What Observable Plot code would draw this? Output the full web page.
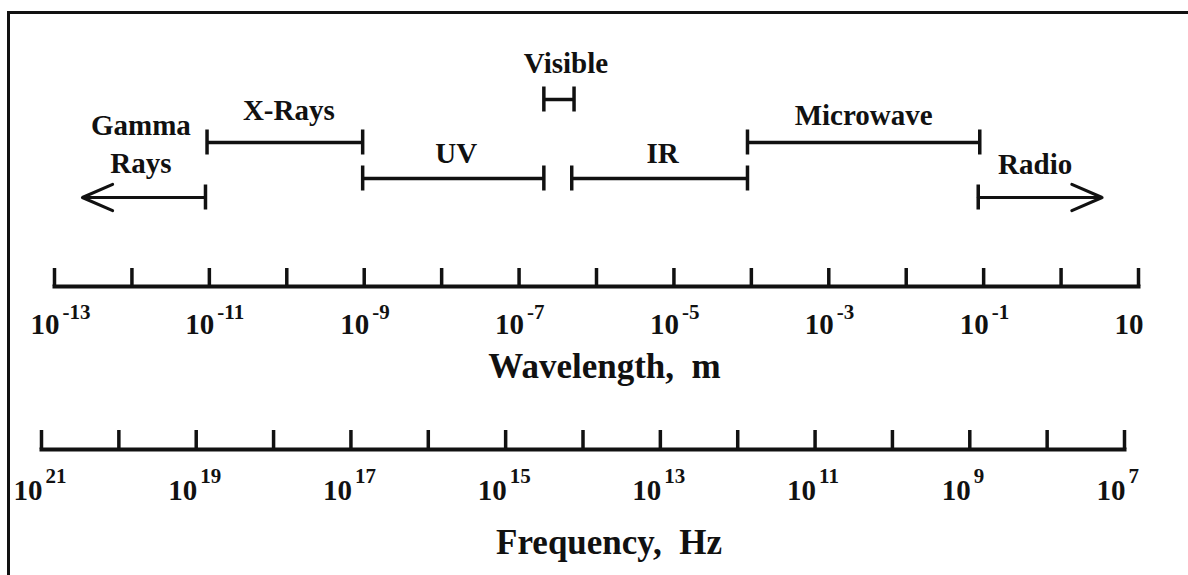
<!DOCTYPE html>
<html>
<head>
<meta charset="utf-8">
<script src="https://cdn.jsdelivr.net/npm/d3@7"></script>
<script src="https://cdn.jsdelivr.net/npm/@observablehq/plot@0.6"></script>
<style>
  html, body { margin: 0; padding: 0; background: #fff; overflow: hidden; }
  #chart { position: relative; width: 1188px; height: 575px; overflow: hidden; background: #fff; }
  #border { position: absolute; left: 7px; top: 11px; width: 1300px; height: 700px;
            border-left: 3px solid #111; border-top: 3px solid #111; }
  #chart svg { position: absolute; left: 0; background: transparent; max-width: none; }
  #chart text, #chart tspan { white-space: pre; }
</style>
</head>
<body>
<div id="chart"><div id="border"></div></div>
<script>
// ---- Data (exponents of 10) ----
const bandNames      = ["Gamma\nRays", "X-Rays", "UV", "Visible", "IR", "Microwave", "Radio"];
const bandStartExp   = [-11.05, -11.03, -9.02, -6.68, -6.32, -4.05, -1.07];   // log10 wavelength (m)
const bandEndExp     = [-12.64, -9.02, -6.68, -6.29, -4.05, -1.05, 0.53];     // log10 wavelength (m)
const bandTier       = [3, 1, 2, 0, 2, 1, 3];
const bandOpenEnded  = [true, false, false, false, false, false, true];

const wavelengthTicks       = [-13, -12, -11, -10, -9, -8, -7, -6, -5, -4, -3, -2, -1, 0, 1];
const wavelengthLabelExps   = [-13, -11, -9, -7, -5, -3, -1, 1];
const wavelengthSuperscript = ["-13", "-11", "-9", "-7", "-5", "-3", "-1", ""];
const wavelengthTitle       = "Wavelength,  m";

const frequencyTicks        = [21, 20, 19, 18, 17, 16, 15, 14, 13, 12, 11, 10, 9, 8, 7];
const frequencyLabelExps    = [21, 19, 17, 15, 13, 11, 9, 7];
const frequencySuperscript  = ["21", "19", "17", "15", "13", "11", "9", "7"];
const frequencyTitle        = "Frequency,  Hz";

// ---- Tables built from the arrays ----
const bands = bandNames.map((name, i) => ({
  name, start: bandStartExp[i], end: bandEndExp[i], tier: bandTier[i], open: bandOpenEnded[i],
  mid: (bandStartExp[i] + bandEndExp[i]) / 2
}));
const wlLabels = wavelengthLabelExps.map((e, i) => ({exp: e, sup: wavelengthSuperscript[i]}));
const frLabels = frequencyLabelExps.map((e, i) => ({exp: e, sup: frequencySuperscript[i]}));

// ---- Styles / layout ----
const INK = "#111";
const SERIF = "Liberation Serif, Times New Roman, serif";
// vertical placement of each tier of bars inside the band panel (layout)
const tierLayout = d3.scaleLinear().domain([0, 1, 2, 3]).range([99, 142, 178, 197]);
const labelLayout = {
  "Gamma\nRays": {dx: -3, dy: -25},
  "X-Rays": {dx: 4, dy: -23},
  "UV": {dx: 3, dy: -16},
  "Visible": {dx: 7, dy: -27},
  "IR": {dx: 3, dy: -16},
  "Microwave": {dx: 0, dy: -18},
  "Radio": {dx: -5, dy: -24}
};

const chart = document.getElementById("chart");

// ---- Plot A: spectral bands ----
const plotA = Plot.plot({
  width: 1188, height: 230,
  marginLeft: 54, marginRight: 50, marginTop: 0, marginBottom: 0,
  x: {domain: [-13, 1], axis: null},
  y: {type: "linear", domain: [0, 230], range: [0, 230], transform: tierLayout, axis: null},
  style: {background: "transparent", overflow: "visible"},
  marks: [
    Plot.ruleY(bands.filter(d => !d.open), {x1: "start", x2: "end", y: "tier", stroke: INK, strokeWidth: 3.5}),
    Plot.arrow(bands.filter(d => d.open), {x1: "start", x2: "end", y1: "tier", y2: "tier",
      stroke: INK, strokeWidth: 3, headAngle: 47, headLength: 16.5}),
    Plot.ruleX(bands, {x: "start", y1: "tier", y2: "tier", insetTop: -12.5, insetBottom: -12.5, stroke: INK, strokeWidth: 3.5}),
    Plot.ruleX(bands.filter(d => !d.open), {x: "end", y1: "tier", y2: "tier", insetTop: -12.5, insetBottom: -12.5, stroke: INK, strokeWidth: 3.5}),
    ...bands.map(b => Plot.text([b], {
      x: "mid", y: "tier", text: "name",
      dx: labelLayout[b.name].dx, dy: labelLayout[b.name].dy,
      lineAnchor: "bottom", lineHeight: 1.28,
      fontFamily: SERIF, fontWeight: "bold", fontSize: 29, fill: INK, ariaLabel: "band-label"
    }))
  ]
});
plotA.style.top = "0px";
chart.appendChild(plotA);

// ---- Plot B: wavelength axis ----
const plotB = Plot.plot({
  width: 1188, height: 160,
  marginLeft: 54, marginRight: 50, marginTop: 38, marginBottom: 104,
  x: {domain: [-13, 1], axis: null},
  style: {background: "transparent", overflow: "visible"},
  marks: [
    Plot.tickX(wavelengthTicks, {x: d => d, stroke: INK, strokeWidth: 3.5}),
    Plot.frame({anchor: "bottom", stroke: INK, strokeWidth: 4}),
    Plot.text(wlLabels, {x: "exp", text: () => "10", frameAnchor: "bottom", dx: 5, dy: 47,
      textAnchor: "end", lineAnchor: "bottom", fontFamily: SERIF, fontWeight: "bold", fontSize: 29, fill: INK}),
    Plot.text(wlLabels, {x: "exp", text: "sup", frameAnchor: "bottom", dx: 8, dy: 32,
      textAnchor: "start", lineAnchor: "bottom", fontFamily: SERIF, fontWeight: "bold", fontSize: 21, fill: INK, ariaLabel: "sup"}),
    Plot.text([wavelengthTitle], {text: d => d, frameAnchor: "bottom", dx: 8, dy: 91,
      lineAnchor: "bottom", fontFamily: SERIF, fontWeight: "bold", fontSize: 35, fill: INK, ariaLabel: "title"})
  ]
});
plotB.style.top = "230px";
chart.appendChild(plotB);

// ---- Plot C: frequency axis ----
const plotC = Plot.plot({
  width: 1188, height: 185,
  marginLeft: 41, marginRight: 64, marginTop: 40, marginBottom: 126,
  x: {domain: [21, 7], axis: null},
  style: {background: "transparent", overflow: "visible"},
  marks: [
    Plot.tickX(frequencyTicks, {x: d => d, stroke: INK, strokeWidth: 3.5}),
    Plot.frame({anchor: "bottom", stroke: INK, strokeWidth: 4}),
    Plot.text(frLabels, {x: "exp", text: () => "10", frameAnchor: "bottom", dx: 1, dy: 50,
      textAnchor: "end", lineAnchor: "bottom", fontFamily: SERIF, fontWeight: "bold", fontSize: 29, fill: INK}),
    Plot.text(frLabels, {x: "exp", text: "sup", frameAnchor: "bottom", dx: 4, dy: 33,
      textAnchor: "start", lineAnchor: "bottom", fontFamily: SERIF, fontWeight: "bold", fontSize: 21, fill: INK, ariaLabel: "sup"}),
    Plot.text([frequencyTitle], {text: d => d, frameAnchor: "bottom", dx: 26, dy: 104,
      lineAnchor: "bottom", fontFamily: SERIF, fontWeight: "bold", fontSize: 35, fill: INK, ariaLabel: "title"})
  ]
});
plotC.style.top = "390px";
chart.appendChild(plotC);

// letter spacing tweaks to match the wide bold serif of the original
d3.selectAll('#chart g[aria-label="sup"]').style("letter-spacing", "1.5px");
d3.selectAll('#chart g[aria-label="title"]').style("letter-spacing", "0.9px");
d3.selectAll('#chart g[aria-label="band-label"]').style("letter-spacing", "0.6px");
</script>
</body>
</html>
